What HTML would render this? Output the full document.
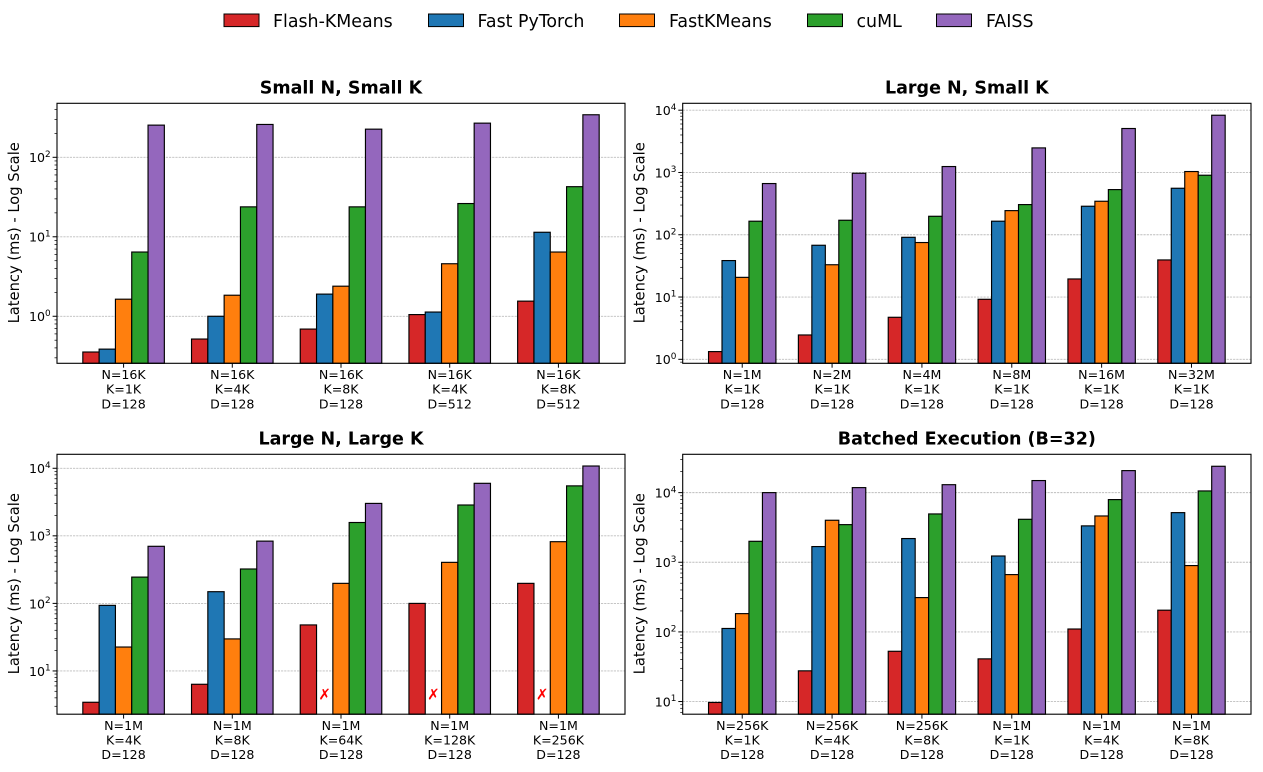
<!DOCTYPE html>
<html lang="en">
<head>
<meta charset="utf-8">
<title>K-Means latency comparison</title>
<style>
html,body{margin:0;padding:0;background:#fff;width:1263px;height:772px;overflow:hidden}
svg{display:block}
text{font-family:"DejaVu Sans","Liberation Sans",sans-serif;fill:#000}
</style>
</head>
<body>
<svg id="chart" xmlns="http://www.w3.org/2000/svg" width="1263" height="772" viewBox="0 0 1263 772">
  <g>
    <g><rect x="224" y="14" width="35" height="12.6" fill="#d62728" stroke="#000" stroke-width="1"/><text x="273" y="26.8" font-size="17.4">Flash-KMeans</text></g>
    <g><rect x="428.5" y="14" width="35" height="12.6" fill="#1f77b4" stroke="#000" stroke-width="1"/><text x="477.5" y="26.8" font-size="17.4">Fast PyTorch</text></g>
    <g><rect x="619.5" y="14" width="35" height="12.6" fill="#ff7f0e" stroke="#000" stroke-width="1"/><text x="669" y="26.8" font-size="17.4">FastKMeans</text></g>
    <g><rect x="807.5" y="14" width="35" height="12.6" fill="#2ca02c" stroke="#000" stroke-width="1"/><text x="856.5" y="26.8" font-size="17.4">cuML</text></g>
    <g><rect x="936.5" y="14" width="35" height="12.6" fill="#9467bd" stroke="#000" stroke-width="1"/><text x="986" y="26.8" font-size="17.4">FAISS</text></g>
  </g>
</svg>
<script>
// Shared series definitions
const seriesNames = ["Flash-KMeans", "Fast PyTorch", "FastKMeans", "cuML", "FAISS"];
const seriesColors = ["#d62728", "#1f77b4", "#ff7f0e", "#2ca02c", "#9467bd"];

// Panel 1: Small N, Small K
const smallSmallCategories = [["N=16K","K=1K","D=128"],["N=16K","K=4K","D=128"],["N=16K","K=8K","D=128"],["N=16K","K=4K","D=512"],["N=16K","K=8K","D=512"]];
const smallSmallFlash = [0.355, 0.517, 0.69, 1.05, 1.55];
const smallSmallPyTorch = [0.386, 1.0, 1.9, 1.13, 11.4];
const smallSmallFastK = [1.64, 1.84, 2.39, 4.58, 6.43];
const smallSmallCuml = [6.43, 23.8, 23.8, 26.2, 42.7];
const smallSmallFaiss = [254, 259, 226, 269, 343];
const smallSmallExponents = [0, 1, 2];
const smallSmallRange = [0.256, 478];

// Panel 2: Large N, Small K
const largeSmallCategories = [["N=1M","K=1K","D=128"],["N=2M","K=1K","D=128"],["N=4M","K=1K","D=128"],["N=8M","K=1K","D=128"],["N=16M","K=1K","D=128"],["N=32M","K=1K","D=128"]];
const largeSmallFlash = [1.33, 2.46, 4.73, 9.2, 19.5, 39.4];
const largeSmallPyTorch = [38.5, 67.8, 91, 165, 287, 558];
const largeSmallFastK = [20.7, 33, 75, 244, 345, 1035];
const largeSmallCuml = [165, 171, 198, 305, 531, 903];
const largeSmallFaiss = [664, 972, 1245, 2480, 5080, 8300];
const largeSmallExponents = [0, 1, 2, 3, 4];
const largeSmallRange = [0.863, 12900];

// Panel 3: Large N, Large K (null = did not run)
const largeLargeCategories = [["N=1M","K=4K","D=128"],["N=1M","K=8K","D=128"],["N=1M","K=64K","D=128"],["N=1M","K=128K","D=128"],["N=1M","K=256K","D=128"]];
const largeLargeFlash = [3.44, 6.35, 48, 100, 198];
const largeLargePyTorch = [93.5, 149, null, null, null];
const largeLargeFastK = [22.6, 29.8, 198, 405, 819];
const largeLargeCuml = [245, 323, 1575, 2860, 5490];
const largeLargeFaiss = [700, 835, 3020, 5990, 10800];
const largeLargeExponents = [1, 2, 3, 4];
const largeLargeRange = [2.29, 16100];

// Panel 4: Batched Execution (B=32)
const batchedCategories = [["N=256K","K=1K","D=128"],["N=256K","K=4K","D=128"],["N=256K","K=8K","D=128"],["N=1M","K=1K","D=128"],["N=1M","K=4K","D=128"],["N=1M","K=8K","D=128"]];
const batchedFlash = [9.7, 27.6, 52.7, 41, 110, 205];
const batchedPyTorch = [112, 1680, 2190, 1230, 3330, 5160];
const batchedFastK = [183, 4010, 311, 665, 4620, 896];
const batchedCuml = [2000, 3470, 4940, 4140, 7940, 10570];
const batchedFaiss = [10000, 11800, 13000, 14900, 20700, 23900];
const batchedExponents = [1, 2, 3, 4];
const batchedRange = [6.58, 35500];

const panels = [
  {slug:"small-n-small-k", title:"Small N, Small K", box:[57,103.3,625,363.3], cats:smallSmallCategories, series:[smallSmallFlash,smallSmallPyTorch,smallSmallFastK,smallSmallCuml,smallSmallFaiss], exps:smallSmallExponents, range:smallSmallRange},
  {slug:"large-n-small-k", title:"Large N, Small K", box:[682.7,103.3,1251,363.3], cats:largeSmallCategories, series:[largeSmallFlash,largeSmallPyTorch,largeSmallFastK,largeSmallCuml,largeSmallFaiss], exps:largeSmallExponents, range:largeSmallRange},
  {slug:"large-n-large-k", title:"Large N, Large K", box:[57,454.3,625,714.2], cats:largeLargeCategories, series:[largeLargeFlash,largeLargePyTorch,largeLargeFastK,largeLargeCuml,largeLargeFaiss], exps:largeLargeExponents, range:largeLargeRange},
  {slug:"batched-execution", title:"Batched Execution (B=32)", box:[682.7,454.3,1251,714.2], cats:batchedCategories, series:[batchedFlash,batchedPyTorch,batchedFastK,batchedCuml,batchedFaiss], exps:batchedExponents, range:batchedRange}
];

const NS = "http://www.w3.org/2000/svg";
const svg = document.getElementById("chart");

function make(parent, tag, attrs, text) {
  const el = document.createElementNS(NS, tag);
  for (const k in attrs) el.setAttribute(k, attrs[k]);
  if (text !== undefined) el.textContent = text;
  parent.appendChild(el);
  return el;
}

panels.forEach(function (p) {
  const L = p.box[0], T = p.box[1], R = p.box[2], B = p.box[3];
  const n = p.cats.length;
  const barW = 0.15;
  const span = (n - 1) + 5 * barW;
  const xMin = -2.5 * barW - 0.05 * span;
  const xMax = (n - 1) + 2.5 * barW + 0.05 * span;
  const xScale = function (v) { return L + (v - xMin) / (xMax - xMin) * (R - L); };
  const lo = Math.log10(p.range[0]), hi = Math.log10(p.range[1]);
  const yScale = function (v) { return B - (Math.log10(v) - lo) / (hi - lo) * (B - T); };

  const g = make(svg, "g", {});
  
  

  // Gridlines
  p.exps.forEach(function (e) {
    const y = yScale(Math.pow(10, e));
    const line = make(g, "line", {x1:L, x2:R, y1:y, y2:y, stroke:"#bdbdbd", "stroke-width":0.9, "stroke-dasharray":"2.2 1"});
    
    
  });

  // Bars
  p.series.forEach(function (vals, s) {
    vals.forEach(function (v, i) {
      const cx = xScale(i + (s - 2) * barW);
      const w = xScale(barW) - xScale(0);
      if (v === null) {
        const miss = make(g, "text", {x:cx, y:699.5, "text-anchor":"middle", "font-size":15, "font-weight":"bold", style:"fill:#ff0000"}, "\u2717");
        
        
        return;
      }
      const y = yScale(v);
      const bar = make(g, "rect", {x:cx - w / 2, y:y, width:w, height:B - y, fill:seriesColors[s], stroke:"#000", "stroke-width":1.15});
      
      
      make(bar, "title", {}, seriesNames[s] + ": " + v + " ms");
    });
  });

  // Axes frame
  const frame = make(g, "rect", {x:L, y:T, width:R - L, height:B - T, fill:"none", stroke:"#000", "stroke-width":1.1});
  
  

  // Major y ticks and labels
  p.exps.forEach(function (e) {
    const y = yScale(Math.pow(10, e));
    const tick = make(g, "line", {x1:L - 4.4, x2:L, y1:y, y2:y, stroke:"#000", "stroke-width":1});
    
    
    const label = make(g, "text", {x:L - 6.3, y:y + 4.9, "text-anchor":"end", "font-size":12.6});
    
    
    make(label, "tspan", {}, "10");
    make(label, "tspan", {dy:-5.2, "font-size":8.9}, String(e));
  });

  // Minor y ticks
  for (let d = Math.floor(lo); d <= Math.ceil(hi); d++) {
    for (let m = 2; m <= 9; m++) {
      const v = m * Math.pow(10, d);
      if (v < p.range[0] || v > p.range[1]) continue;
      const y = yScale(v);
      const minor = make(g, "line", {x1:L - 2.5, x2:L, y1:y, y2:y, stroke:"#000", "stroke-width":0.7});
      
      
    }
  }

  // X ticks and category labels
  p.cats.forEach(function (c, i) {
    const x = xScale(i);
    const tick = make(g, "line", {x1:x, x2:x, y1:B, y2:B + 4.4, stroke:"#000", "stroke-width":1});
    
    
    const label = make(g, "text", {"text-anchor":"middle", "font-size":12.6});
    
    
    c.forEach(function (line, j) {
      make(label, "tspan", {x:x, y:B + 15.7 + j * 14.65}, line);
    });
  });

  // Title
  const title = make(g, "text", {x:(L + R) / 2, y:T - 10, "text-anchor":"middle", "font-size":17.5, "font-weight":"bold"}, p.title);
  
  

  // Y axis label
  const lx = L - 38, ly = (T + B) / 2 - 0.5;
  const ylabel = make(g, "text", {x:lx, y:ly, "text-anchor":"middle", "font-size":14.7, transform:"rotate(-90 " + lx + " " + ly + ")"}, "Latency (ms) - Log Scale");
  
  
});
</script>
</body>
</html>
